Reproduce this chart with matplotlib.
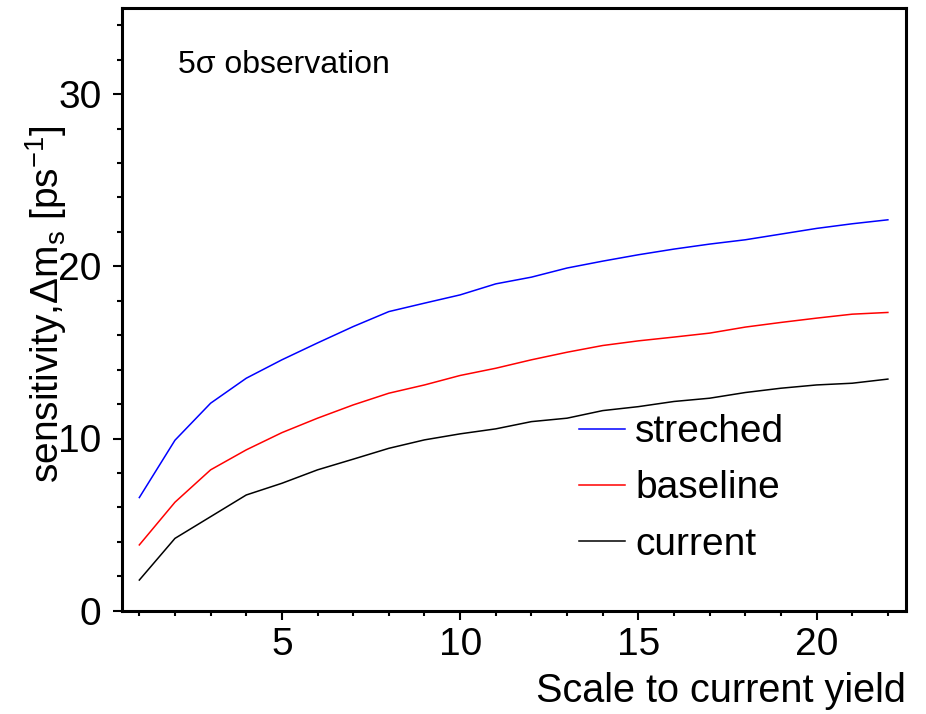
import matplotlib
matplotlib.use("Agg")
import matplotlib.pyplot as plt
from matplotlib.ticker import MultipleLocator

plt.rcParams["font.family"] = ["Liberation Sans", "DejaVu Sans"]
plt.rcParams["mathtext.fontset"] = "custom"
plt.rcParams["mathtext.rm"] = "Liberation Sans"
plt.rcParams["mathtext.it"] = "Liberation Sans:italic"

# Yield scale factor relative to the current sample
scale = [1, 2, 3, 4, 5, 6, 7, 8, 9, 10, 11, 12, 13, 14, 15, 16, 17, 18, 19, 20, 21, 22]

# 5 sigma observation reach in Delta m_s [ps^-1]
streched = [6.57, 9.9, 12.05, 13.5, 14.57, 15.55, 16.5, 17.37, 17.86, 18.34, 18.98,
            19.37, 19.9, 20.3, 20.67, 21.0, 21.29, 21.54, 21.87, 22.2, 22.47, 22.7]
baseline = [3.82, 6.3, 8.18, 9.34, 10.34, 11.18, 11.95, 12.63, 13.11, 13.66, 14.08,
            14.57, 15.01, 15.4, 15.67, 15.89, 16.12, 16.47, 16.74, 16.99, 17.22, 17.32]
current = [1.78, 4.2, 5.46, 6.72, 7.4, 8.18, 8.8, 9.43, 9.92, 10.27, 10.56,
           10.98, 11.18, 11.62, 11.85, 12.15, 12.34, 12.67, 12.92, 13.11, 13.21, 13.45]

series = [("streched", streched, "#0000ff"),
          ("baseline", baseline, "#ff0000"),
          ("current", current, "#000000")]

fig = plt.figure(figsize=(9.26, 7.14), dpi=100)
ax = fig.add_axes([121.5 / 926, 1 - 610.7 / 714, (905.7 - 121.5) / 926, (610.7 - 8) / 714])

for label, vals, color in series:
    ax.plot(scale, vals, color=color, lw=1.1, label=label)

ax.set_xlim(0.5, 22.5)
ax.set_ylim(0, 35)
ax.xaxis.set_major_locator(MultipleLocator(5))
ax.xaxis.set_minor_locator(MultipleLocator(1))
ax.yaxis.set_major_locator(MultipleLocator(10))
ax.yaxis.set_minor_locator(MultipleLocator(2))

for s in ax.spines.values():
    s.set_linewidth(2.2)

ax.tick_params(which="both", direction="out", top=False, right=False,
               labelsize=28, width=1.5)
ax.tick_params(which="major", length=6.5)
ax.tick_params(which="minor", length=3.6)
ax.tick_params(axis="y", which="major", pad=8)
ax.tick_params(axis="x", which="major", pad=5)

ax.text(0.072, 0.892, "5σ observation", transform=ax.transAxes,
        fontsize=23, ha="left", va="baseline")

fig.text(906 / 926, 1 - 702 / 714, "Scale to current yield", fontsize=28.5,
         ha="right", va="baseline")
fig.text(46 / 926, 1 - 125 / 714,
         r"sensitivity,$\Delta\mathrm{m}_\mathrm{s}$ [ps$^{\mathrm{-1}}$]",
         fontsize=28, rotation=90, ha="center", va="top")

leg = ax.legend(loc="upper left", bbox_to_anchor=(0.583, 0.326), frameon=False,
                fontsize=28, handlelength=1.2, handletextpad=0.25,
                labelspacing=0.52, borderpad=0, borderaxespad=0)

fig.savefig("out.png", dpi=100)
